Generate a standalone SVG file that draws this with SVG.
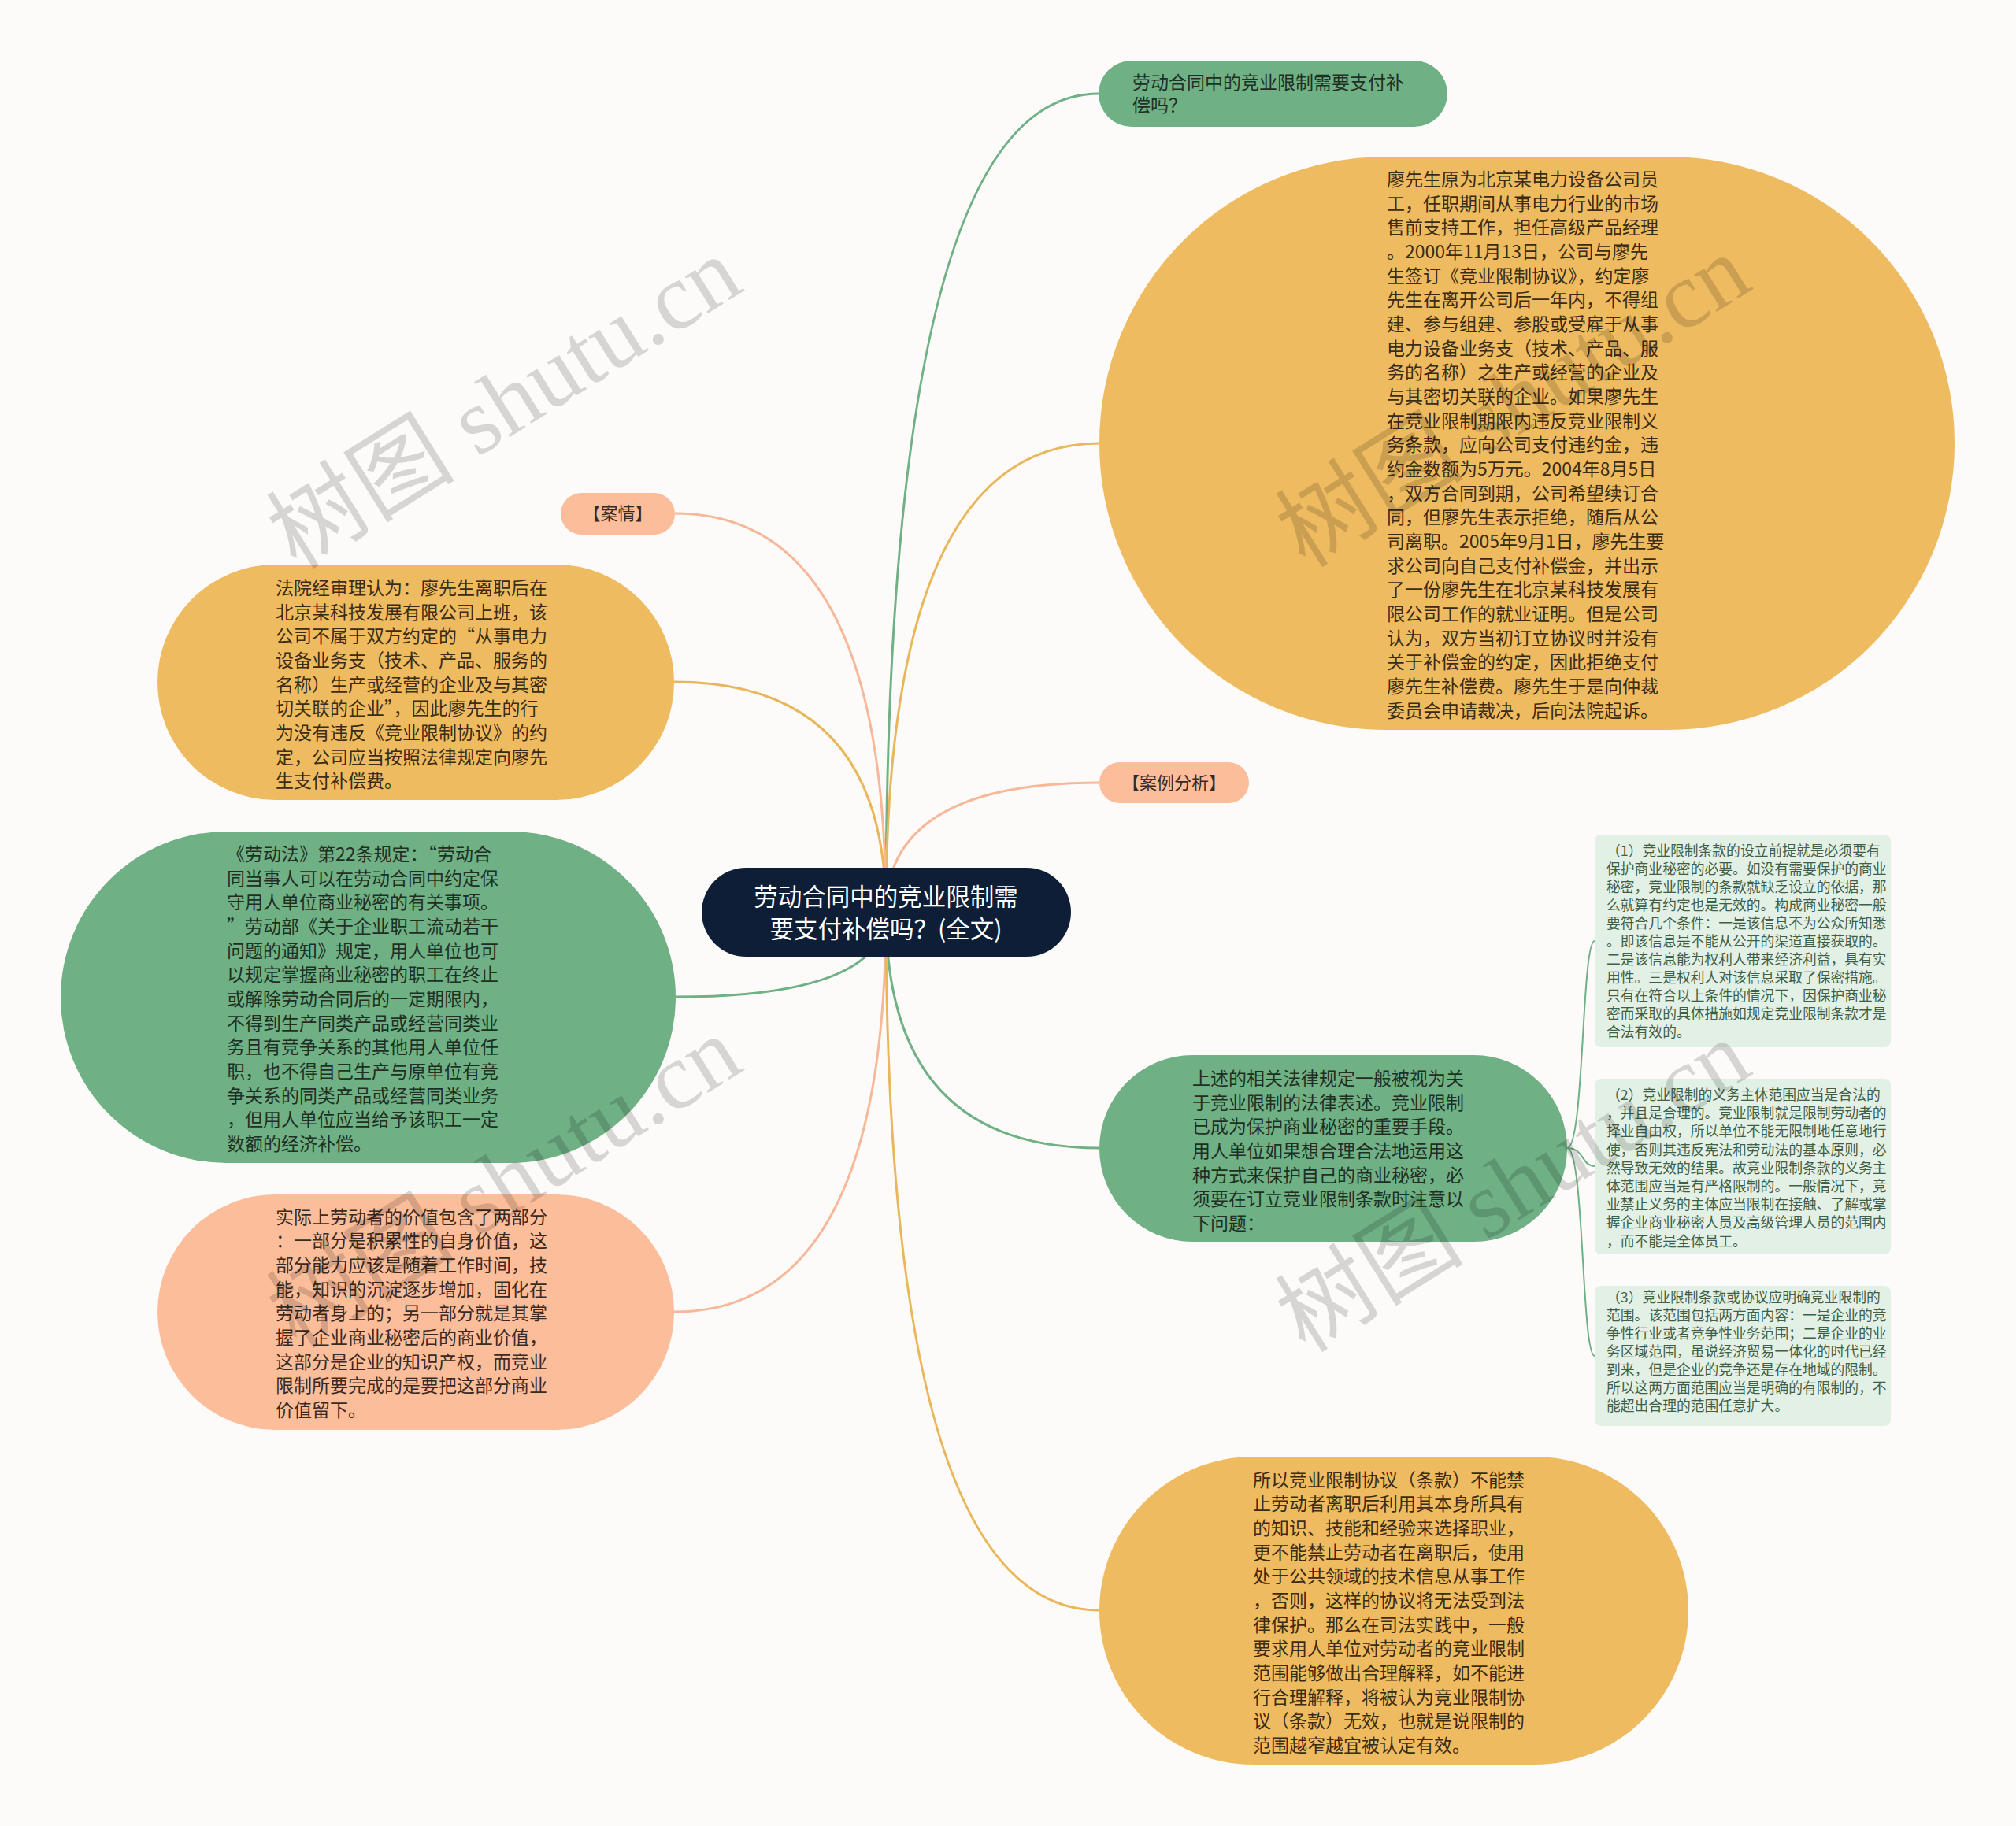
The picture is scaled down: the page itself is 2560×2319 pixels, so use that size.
<svg xmlns="http://www.w3.org/2000/svg" width="2560" height="2319" viewBox="0 0 2560 2319">
<style>
.t{font-family:"Noto Sans CJK SC","Noto Sans",sans-serif;}
.m{font-size:23px;}
.s{font-size:17.8px;fill:#3f5f48;}
.tg{fill:#1f2f23;}
.ty{fill:#3b2c14;}
.ts{fill:#3a2a22;}
.green{fill:#6fb085;}
.yellow{fill:#efbb60;}
.salmon{fill:#fcbd9a;}
.box{fill:#e3f0e5;}
.cg{stroke:#6fb085;}
.cy{stroke:#e9b75a;}
.cs{stroke:#f6b899;}
#connectors path{fill:none;stroke-width:3;}
.wm{font-size:120px;fill:#000;fill-opacity:0.15;}
</style>
<rect width="2560" height="2319" fill="#fdfbf9"/>
<g id="connectors">
<path class="cg" d="M1125 1158 Q1125 119 1395 119"/>
<path class="cy" d="M1125 1158 Q1125 563 1396 563"/>
<path class="cs" d="M1125 1158 Q1125 652 857 652"/>
<path class="cy" d="M1125 1158 Q1125 866 856 866"/>
<path class="cs" d="M1125 1158 Q1125 994 1396 994"/>
<path class="cg" d="M1125 1158 Q1125 1266 858 1266"/>
<path class="cg" d="M1125 1158 Q1125 1458 1396 1458"/>
<path class="cs" d="M1125 1158 Q1125 1666 856 1666"/>
<path class="cy" d="M1125 1158 Q1125 2045 1396 2045"/>
<path class="cg" style="stroke-width:2" d="M1990 1458 C2012 1458 2008 1195 2025 1195"/>
<path class="cg" style="stroke-width:2" d="M1990 1458 C2012 1458 2008 1481 2025 1481"/>
<path class="cg" style="stroke-width:2" d="M1990 1458 C2012 1458 2008 1722 2025 1722"/>
</g>
<g id="center">
<rect x="891" y="1102" width="469" height="113" rx="56.5" fill="#0e1e36"/>
<text class="t" font-size="30.5" fill="#ffffff" text-anchor="middle"><tspan x="1125" y="1150">劳动合同中的竞业限制需</tspan><tspan x="1125" y="1191">要支付补偿吗？(全文)</tspan></text>
</g>
<g id="topic1">
<rect class="green" x="1395" y="77" width="443" height="84" rx="42"/>
<text class="t m tg"><tspan x="1438" y="113">劳动合同中的竞业限制需要支付补</tspan><tspan x="1438" y="142">偿吗？</tspan></text>
</g>
<g id="case-detail">
<rect class="yellow" x="1396" y="199" width="1086" height="728" rx="364"/>
<text class="t m ty">
<tspan x="1761" y="236">廖先生原为北京某电力设备公司员</tspan>
<tspan x="1761" y="266.7">工，任职期间从事电力行业的市场</tspan>
<tspan x="1761" y="297.3">售前支持工作，担任高级产品经理</tspan>
<tspan x="1761" y="328">。2000年11月13日，公司与廖先</tspan>
<tspan x="1761" y="358.7">生签订《竞业限制协议》，约定廖</tspan>
<tspan x="1761" y="389.3">先生在离开公司后一年内，不得组</tspan>
<tspan x="1761" y="420">建、参与组建、参股或受雇于从事</tspan>
<tspan x="1761" y="450.7">电力设备业务支（技术、产品、服</tspan>
<tspan x="1761" y="481.3">务的名称）之生产或经营的企业及</tspan>
<tspan x="1761" y="512">与其密切关联的企业。如果廖先生</tspan>
<tspan x="1761" y="542.7">在竞业限制期限内违反竞业限制义</tspan>
<tspan x="1761" y="573.3">务条款，应向公司支付违约金，违</tspan>
<tspan x="1761" y="604">约金数额为5万元。2004年8月5日</tspan>
<tspan x="1761" y="634.7">，双方合同到期，公司希望续订合</tspan>
<tspan x="1761" y="665.3">同，但廖先生表示拒绝，随后从公</tspan>
<tspan x="1761" y="696">司离职。2005年9月1日，廖先生要</tspan>
<tspan x="1761" y="726.7">求公司向自己支付补偿金，并出示</tspan>
<tspan x="1761" y="757.3">了一份廖先生在北京某科技发展有</tspan>
<tspan x="1761" y="788">限公司工作的就业证明。但是公司</tspan>
<tspan x="1761" y="818.7">认为，双方当初订立协议时并没有</tspan>
<tspan x="1761" y="849.3">关于补偿金的约定，因此拒绝支付</tspan>
<tspan x="1761" y="880">廖先生补偿费。廖先生于是向仲裁</tspan>
<tspan x="1761" y="910.7">委员会申请裁决，后向法院起诉。</tspan>
</text>
</g>
<g id="label-case">
<rect class="salmon" x="712" y="626" width="145" height="53" rx="26.5"/>
<text class="t ts" font-size="22" x="784.5" y="660" text-anchor="middle">【案情】</text>
</g>
<g id="court-view">
<rect class="yellow" x="200" y="717" width="656" height="299" rx="149.5"/>
<text class="t m ty">
<tspan x="350" y="755">法院经审理认为：廖先生离职后在</tspan>
<tspan x="350" y="785.7">北京某科技发展有限公司上班，该</tspan>
<tspan x="350" y="816.3">公司不属于双方约定的“从事电力</tspan>
<tspan x="350" y="847">设备业务支（技术、产品、服务的</tspan>
<tspan x="350" y="877.7">名称）生产或经营的企业及与其密</tspan>
<tspan x="350" y="908.3">切关联的企业”，因此廖先生的行</tspan>
<tspan x="350" y="939">为没有违反《竞业限制协议》的约</tspan>
<tspan x="350" y="969.7">定，公司应当按照法律规定向廖先</tspan>
<tspan x="350" y="1000.3">生支付补偿费。</tspan>
</text>
</g>
<g id="label-analysis">
<rect class="salmon" x="1396" y="968" width="190" height="52" rx="26"/>
<text class="t ts" font-size="22" x="1491" y="1002" text-anchor="middle">【案例分析】</text>
</g>
<g id="labor-law">
<rect class="green" x="77" y="1056" width="781" height="421" rx="210.5"/>
<text class="t m tg">
<tspan x="288" y="1093">《劳动法》第22条规定：“劳动合</tspan>
<tspan x="288" y="1123.7">同当事人可以在劳动合同中约定保</tspan>
<tspan x="288" y="1154.3">守用人单位商业秘密的有关事项。</tspan>
<tspan x="288" y="1185">”劳动部《关于企业职工流动若干</tspan>
<tspan x="288" y="1215.7">问题的通知》规定，用人单位也可</tspan>
<tspan x="288" y="1246.3">以规定掌握商业秘密的职工在终止</tspan>
<tspan x="288" y="1277">或解除劳动合同后的一定期限内，</tspan>
<tspan x="288" y="1307.7">不得到生产同类产品或经营同类业</tspan>
<tspan x="288" y="1338.3">务且有竞争关系的其他用人单位任</tspan>
<tspan x="288" y="1369">职，也不得自己生产与原单位有竞</tspan>
<tspan x="288" y="1399.7">争关系的同类产品或经营同类业务</tspan>
<tspan x="288" y="1430.3">，但用人单位应当给予该职工一定</tspan>
<tspan x="288" y="1461">数额的经济补偿。</tspan>
</text>
</g>
<g id="legal-expression">
<rect class="green" x="1396" y="1340" width="594" height="237" rx="118.5"/>
<text class="t m tg">
<tspan x="1514" y="1378">上述的相关法律规定一般被视为关</tspan>
<tspan x="1514" y="1408.7">于竞业限制的法律表述。竞业限制</tspan>
<tspan x="1514" y="1439.3">已成为保护商业秘密的重要手段。</tspan>
<tspan x="1514" y="1470">用人单位如果想合理合法地运用这</tspan>
<tspan x="1514" y="1500.7">种方式来保护自己的商业秘密，必</tspan>
<tspan x="1514" y="1531.3">须要在订立竞业限制条款时注意以</tspan>
<tspan x="1514" y="1562">下问题：</tspan>
</text>
</g>
<g id="point1">
<rect class="box" x="2025" y="1060" width="376" height="270" rx="8"/>
<text class="t s">
<tspan x="2040" y="1087">（1）竞业限制条款的设立前提就是必须要有</tspan>
<tspan x="2040" y="1110">保护商业秘密的必要。如没有需要保护的商业</tspan>
<tspan x="2040" y="1133">秘密，竞业限制的条款就缺乏设立的依据，那</tspan>
<tspan x="2040" y="1156">么就算有约定也是无效的。构成商业秘密一般</tspan>
<tspan x="2040" y="1179">要符合几个条件：一是该信息不为公众所知悉</tspan>
<tspan x="2040" y="1202">。即该信息是不能从公开的渠道直接获取的。</tspan>
<tspan x="2040" y="1225">二是该信息能为权利人带来经济利益，具有实</tspan>
<tspan x="2040" y="1248">用性。三是权利人对该信息采取了保密措施。</tspan>
<tspan x="2040" y="1271">只有在符合以上条件的情况下，因保护商业秘</tspan>
<tspan x="2040" y="1294">密而采取的具体措施如规定竞业限制条款才是</tspan>
<tspan x="2040" y="1317">合法有效的。</tspan>
</text>
</g>
<g id="point2">
<rect class="box" x="2025" y="1370" width="376" height="223" rx="8"/>
<text class="t s">
<tspan x="2040" y="1397">（2）竞业限制的义务主体范围应当是合法的</tspan>
<tspan x="2040" y="1420.2">，并且是合理的。竞业限制就是限制劳动者的</tspan>
<tspan x="2040" y="1443.4">择业自由权，所以单位不能无限制地任意地行</tspan>
<tspan x="2040" y="1466.6">使，否则其违反宪法和劳动法的基本原则，必</tspan>
<tspan x="2040" y="1489.8">然导致无效的结果。故竞业限制条款的义务主</tspan>
<tspan x="2040" y="1513">体范围应当是有严格限制的。一般情况下，竞</tspan>
<tspan x="2040" y="1536.2">业禁止义务的主体应当限制在接触、了解或掌</tspan>
<tspan x="2040" y="1559.4">握企业商业秘密人员及高级管理人员的范围内</tspan>
<tspan x="2040" y="1582.6">，而不能是全体员工。</tspan>
</text>
</g>
<g id="point3">
<rect class="box" x="2025" y="1633" width="376" height="178" rx="8"/>
<text class="t s">
<tspan x="2040" y="1653.5">（3）竞业限制条款或协议应明确竞业限制的</tspan>
<tspan x="2040" y="1676.5">范围。该范围包括两方面内容：一是企业的竞</tspan>
<tspan x="2040" y="1699.5">争性行业或者竞争性业务范围；二是企业的业</tspan>
<tspan x="2040" y="1722.5">务区域范围，虽说经济贸易一体化的时代已经</tspan>
<tspan x="2040" y="1745.5">到来，但是企业的竞争还是存在地域的限制。</tspan>
<tspan x="2040" y="1768.5">所以这两方面范围应当是明确的有限制的，不</tspan>
<tspan x="2040" y="1791.5">能超出合理的范围任意扩大。</tspan>
</text>
</g>
<g id="value">
<rect class="salmon" x="200" y="1517" width="656" height="299" rx="149.5"/>
<text class="t m ts">
<tspan x="350" y="1553.5">实际上劳动者的价值包含了两部分</tspan>
<tspan x="350" y="1584.2">：一部分是积累性的自身价值，这</tspan>
<tspan x="350" y="1614.8">部分能力应该是随着工作时间，技</tspan>
<tspan x="350" y="1645.5">能，知识的沉淀逐步增加，固化在</tspan>
<tspan x="350" y="1676.2">劳动者身上的；另一部分就是其掌</tspan>
<tspan x="350" y="1706.8">握了企业商业秘密后的商业价值，</tspan>
<tspan x="350" y="1737.5">这部分是企业的知识产权，而竞业</tspan>
<tspan x="350" y="1768.2">限制所要完成的是要把这部分商业</tspan>
<tspan x="350" y="1798.8">价值留下。</tspan>
</text>
</g>
<g id="scope">
<rect class="yellow" x="1396" y="1850" width="748" height="391" rx="195.5"/>
<text class="t m ty">
<tspan x="1591" y="1887.5">所以竞业限制协议（条款）不能禁</tspan>
<tspan x="1591" y="1918.2">止劳动者离职后利用其本身所具有</tspan>
<tspan x="1591" y="1948.8">的知识、技能和经验来选择职业，</tspan>
<tspan x="1591" y="1979.5">更不能禁止劳动者在离职后，使用</tspan>
<tspan x="1591" y="2010.2">处于公共领域的技术信息从事工作</tspan>
<tspan x="1591" y="2040.8">，否则，这样的协议将无法受到法</tspan>
<tspan x="1591" y="2071.5">律保护。那么在司法实践中，一般</tspan>
<tspan x="1591" y="2102.2">要求用人单位对劳动者的竞业限制</tspan>
<tspan x="1591" y="2132.8">范围能够做出合理解释，如不能进</tspan>
<tspan x="1591" y="2163.5">行合理解释，将被认为竞业限制协</tspan>
<tspan x="1591" y="2194.2">议（条款）无效，也就是说限制的</tspan>
<tspan x="1591" y="2224.8">范围越窄越宜被认定有效。</tspan>
</text>
</g>
<g id="watermarks">
<text class="wm" font-family="'Liberation Serif','Noto Sans CJK SC',serif" text-anchor="middle" transform="translate(662 546) rotate(-32)">树图 shutu.cn</text>
<text class="wm" font-family="'Liberation Serif','Noto Sans CJK SC',serif" text-anchor="middle" transform="translate(1943 544) rotate(-32)">树图 shutu.cn</text>
<text class="wm" font-family="'Liberation Serif','Noto Sans CJK SC',serif" text-anchor="middle" transform="translate(662 1536) rotate(-32)">树图 shutu.cn</text>
<text class="wm" font-family="'Liberation Serif','Noto Sans CJK SC',serif" text-anchor="middle" transform="translate(1943 1541) rotate(-32)">树图 shutu.cn</text>
</g>
</svg>
